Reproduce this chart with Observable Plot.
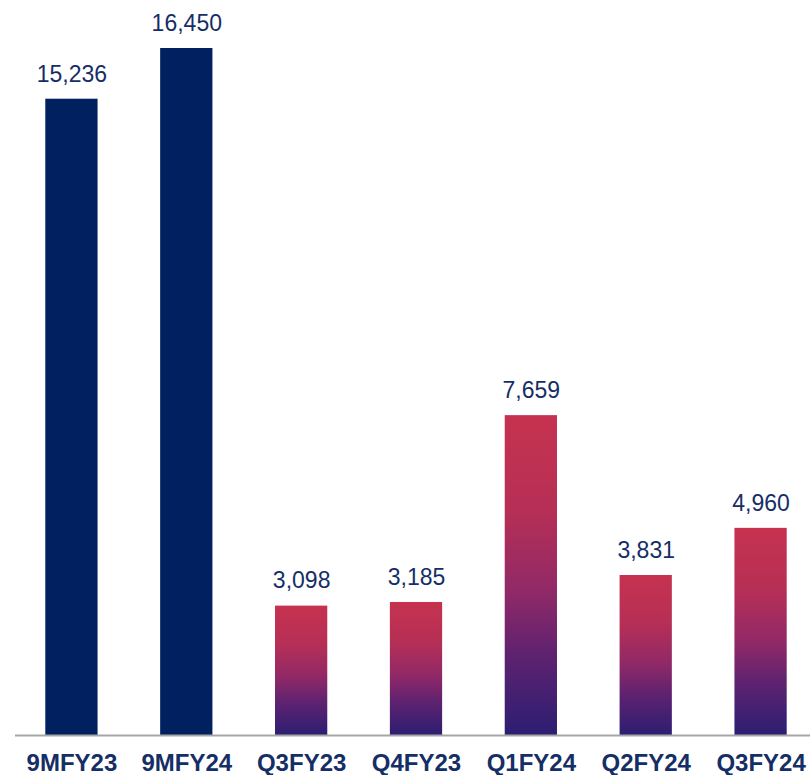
<!DOCTYPE html>
<html>
<head>
<meta charset="utf-8">
<script src="https://cdn.jsdelivr.net/npm/d3@7"></script>
<script src="https://cdn.jsdelivr.net/npm/@observablehq/plot@0.6"></script>
<style>
  html, body { margin: 0; padding: 0; background: #fff; overflow: hidden; }
  #chart svg { display: block; }
</style>
</head>
<body>
<div id="chart"></div>
<script>
const categories = ["9MFY23", "9MFY24", "Q3FY23", "Q4FY23", "Q1FY24", "Q2FY24", "Q3FY24"];
const values = [15236, 16450, 3098, 3185, 7659, 3831, 4960];
const kinds = ["nine", "nine", "quarter", "quarter", "quarter", "quarter", "quarter"];

const data = categories.map((c, i) => ({category: c, value: values[i], kind: kinds[i]}));

const navy = "#002060";
const textColor = "#162E66";

const chart = Plot.plot({
  width: 810,
  height: 775,
  marginLeft: 15,
  marginRight: 0,
  marginTop: 0,
  marginBottom: 40,
  style: {fontFamily: "Liberation Sans, Arial, sans-serif", background: "#fff"},
  x: {domain: categories, range: [14, 818], paddingInner: 0.545, paddingOuter: 0.2725, round: false, label: null},
  y: {domain: [0, 16450], range: [735, 48], axis: null},
  marks: [
    Plot.barY(data, {
      x: "category",
      y: "value",
      fill: d => d.kind === "nine" ? navy : "url(#qgrad)"
    }),
    Plot.ruleY([0], {stroke: "#A6A6A6", strokeWidth: 2}),
    Plot.text(data, {
      x: "category",
      y: "value",
      text: d => d3.format(",")(d.value),
      dy: -25,
      fontSize: 23,
      fill: textColor
    }),
    Plot.axisX({
      tickSize: 0,
      tickPadding: 18,
      fontSize: 24,
      fontWeight: "bold",
      fill: textColor,
      label: null
    })
  ]
});

const defs = d3.select(chart).insert("defs", ":first-child");
const g = defs.append("linearGradient")
  .attr("id", "qgrad")
  .attr("x1", 0).attr("y1", 0).attr("x2", 0).attr("y2", 1);
[
  [0, "#C6324F"],
  [0.3, "#B62F56"],
  [0.55, "#912967"],
  [0.75, "#5E2270"],
  [1, "#2C1E72"]
].forEach(([o, c]) => g.append("stop").attr("offset", o).attr("stop-color", c));

document.getElementById("chart").appendChild(chart);
</script>
</body>
</html>
